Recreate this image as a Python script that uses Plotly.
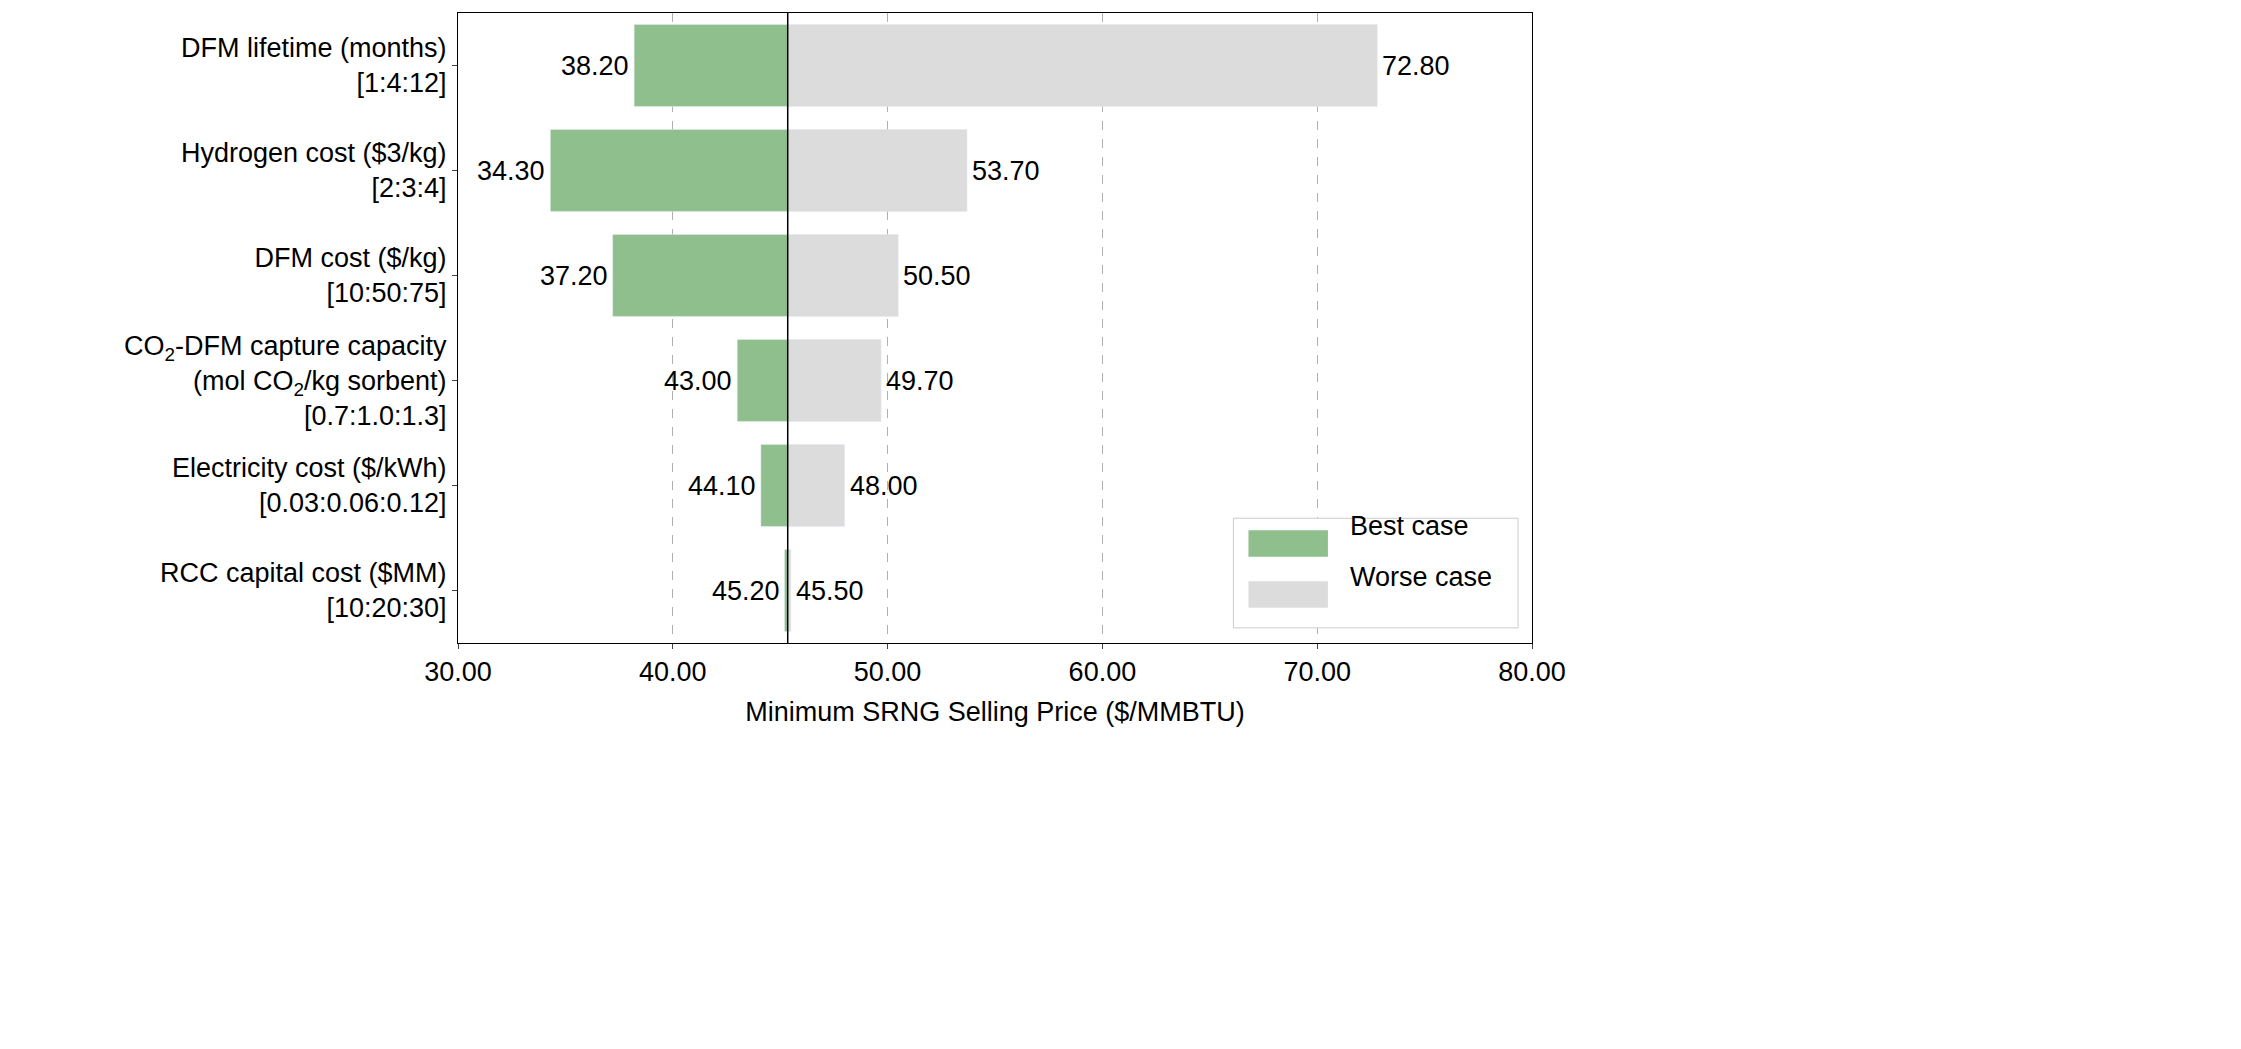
import plotly.graph_objects as go

# parameters, top to bottom
params = [
    "DFM lifetime (months)<br>[1:4:12]",
    "Hydrogen cost ($3/kg)<br>[2:3:4]",
    "DFM cost ($/kg)<br>[10:50:75]",
    "CO<sub>2</sub>-DFM capture capacity<br>(mol CO<sub>2</sub>/kg sorbent)<br>[0.7:1.0:1.3]",
    "Electricity cost ($/kWh)<br>[0.03:0.06:0.12]",
    "RCC capital cost ($MM)<br>[10:20:30]",
]
best_case = [38.20, 34.30, 37.20, 43.00, 44.10, 45.20]
worse_case = [72.80, 53.70, 50.50, 49.70, 48.00, 45.50]
base_value = 45.35
series_names = ["Best case", "Worse case"]
series_colors = ["#8fbf8c", "#dcdcdc"]

font = dict(family="Liberation Sans, Arial", size=27, color="black")

fig = go.Figure()
fig.add_trace(go.Bar(
    y=params, x=[b - base_value for b in best_case], base=base_value,
    orientation="h", name=series_names[0], marker_color=series_colors[0], width=0.78,
))
fig.add_trace(go.Bar(
    y=params, x=[w - base_value for w in worse_case], base=base_value,
    orientation="h", name=series_names[1], marker_color=series_colors[1], width=0.78,
))

for p, b, w in zip(params, best_case, worse_case):
    fig.add_annotation(x=b, y=p, text=f"{b:.2f}", xanchor="right", showarrow=False,
                       xshift=-3, font=font)
    fig.add_annotation(x=w, y=p, text=f"{w:.2f}", xanchor="left", showarrow=False,
                       xshift=3, font=font)

fig.add_vline(x=base_value, line_color="black", line_width=1.5)

# hand-drawn legend with wide patches, like matplotlib
fig.add_shape(type="rect", xref="x domain", yref="y domain", x0=0.722, x1=0.987,
              y0=0.024, y1=0.198, line=dict(color="#cccccc", width=1), fillcolor="white")
for (ylo, yhi, ymid), name, color in zip([(0.137, 0.179, 0.158), (0.056, 0.098, 0.077)],
                                          series_names, series_colors):
    fig.add_shape(type="rect", xref="x domain", yref="y domain", x0=0.736, x1=0.810,
                  y0=ylo, y1=yhi, line_width=0, fillcolor=color)
    fig.add_annotation(xref="x domain", yref="y domain", x=0.829, y=ymid, text=name,
                       xanchor="left", showarrow=False, font=font)

fig.update_layout(
    width=2241, height=1049, barmode="overlay", plot_bgcolor="white", paper_bgcolor="white",
    font=font, margin=dict(l=450, r=717, t=5, b=414), showlegend=False,
)
fig.update_xaxes(range=[30, 80], tickvals=[30, 40, 50, 60, 70, 80], tickformat=".2f",
                 showgrid=True, gridcolor="#b0b0b0", griddash="dash", gridwidth=1,
                 showline=True, linecolor="black", mirror=True, ticks="outside",
                 title=dict(text="Minimum SRNG Selling Price ($/MMBTU)", font=font), zeroline=False)
fig.update_yaxes(autorange="reversed", showline=True, linecolor="black", mirror=True,
                 ticks="outside", showgrid=False)

fig.write_html("out.html")
